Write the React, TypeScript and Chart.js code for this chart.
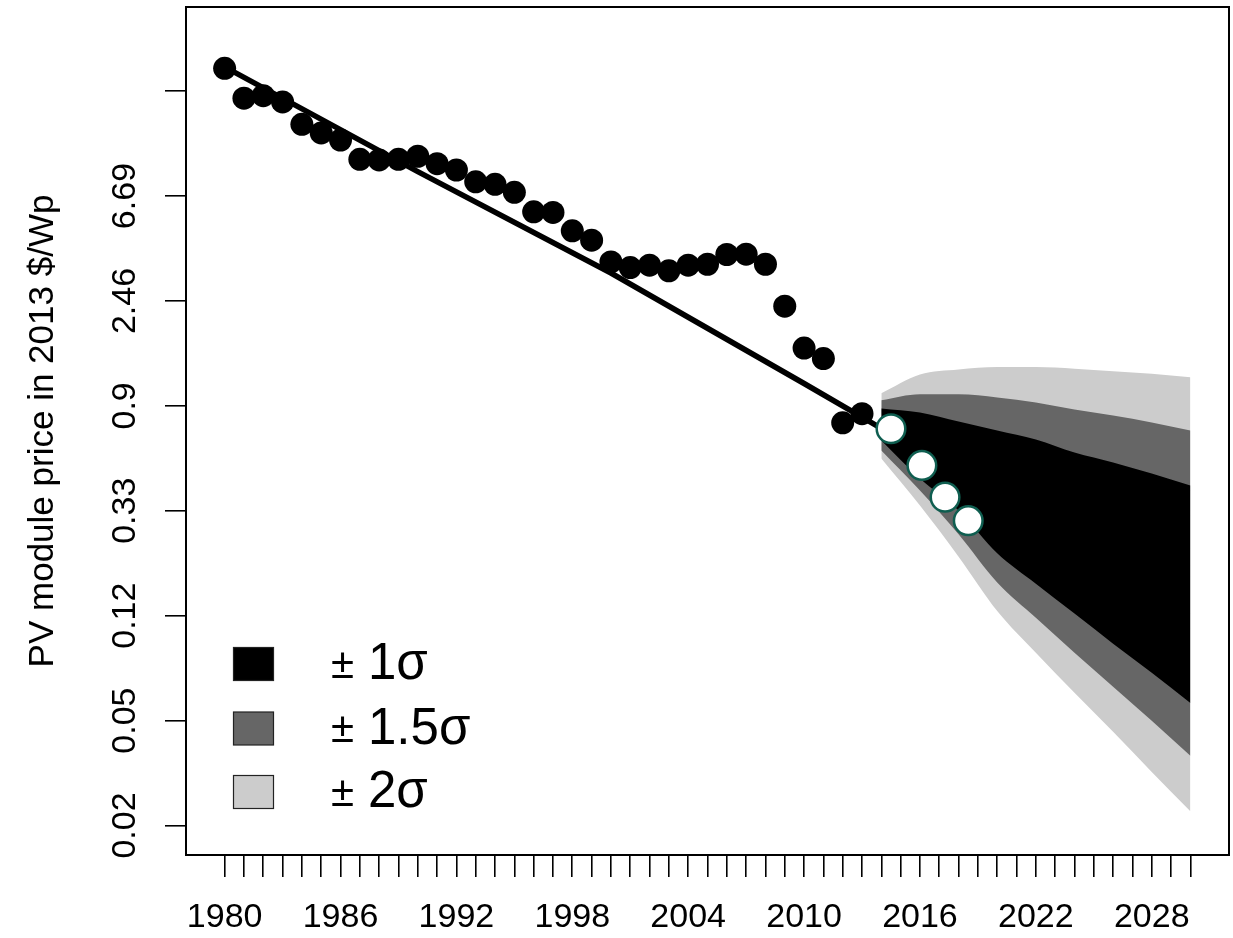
import React, { useEffect, useRef } from 'react';
import { Chart, registerables } from 'chart.js';

Chart.register(...registerables);

// Historical PV module prices (2013 $/Wp)
const histYears = [1980, 1981, 1982, 1983, 1984, 1985, 1986, 1987, 1988, 1989, 1990, 1991, 1992, 1993, 1994, 1995, 1996, 1997, 1998, 1999, 2000, 2001, 2002, 2003, 2004, 2005, 2006, 2007, 2008, 2009, 2010, 2011, 2012, 2013];
const histPrices = [22.6, 17.0, 17.4, 16.4, 13.25, 12.2, 11.4, 9.49, 9.43, 9.49, 9.77, 9.1, 8.57, 7.66, 7.48, 6.93, 5.75, 5.72, 4.8, 4.39, 3.57, 3.38, 3.46, 3.28, 3.46, 3.49, 3.83, 3.84, 3.49, 2.34, 1.57, 1.42, 0.77, 0.84];

// Fitted trend line
const trendYears = [1980, 1990, 2000, 2010, 2014];
const trendPrices = [22.9, 8.44, 3.21, 1.12, 0.73];

// Newer observations (white circles)
const newYears = [2014.5, 2016.1, 2017.3, 2018.5];
const newPrices = [0.728, 0.513, 0.379, 0.303];

// Forecast bands
const bandYears = [2014, 2016, 2018, 2020, 2022, 2024, 2026, 2028, 2030];
const sigma2Upper = [1.02, 1.22, 1.28, 1.31, 1.31, 1.29, 1.26, 1.23, 1.19];
const sigma2Lower = [0.548, 0.35, 0.215, 0.128, 0.086, 0.0587, 0.0405, 0.0276, 0.019];
const sigma15Upper = [0.954, 1.01, 1.01, 0.981, 0.935, 0.875, 0.826, 0.773, 0.716];
const sigma15Lower = [0.592, 0.404, 0.266, 0.168, 0.12, 0.086, 0.0622, 0.045, 0.0322];
const sigma1Upper = [0.883, 0.85, 0.78, 0.716, 0.657, 0.58, 0.528, 0.475, 0.424];
const sigma1Lower = [0.651, 0.453, 0.334, 0.222, 0.166, 0.125, 0.0938, 0.0711, 0.0533];

// Axis ticks
const xTickYears = [1980, 1981, 1982, 1983, 1984, 1985, 1986, 1987, 1988, 1989, 1990, 1991, 1992, 1993, 1994, 1995, 1996, 1997, 1998, 1999, 2000, 2001, 2002, 2003, 2004, 2005, 2006, 2007, 2008, 2009, 2010, 2011, 2012, 2013, 2014, 2015, 2016, 2017, 2018, 2019, 2020, 2021, 2022, 2023, 2024, 2025, 2026, 2027, 2028, 2029, 2030];
const xLabelYears = [1980, 1986, 1992, 1998, 2004, 2010, 2016, 2022, 2028];
const yTickLogs = [-4.1, -3.1, -2.1, -1.1, -0.1, 0.9, 1.9, 2.9];
const yTickLabels = ['0.02', '0.05', '0.12', '0.33', '0.9', '2.46', '6.69', ''];

const legendSigmas = ['1\u03C3', '1.5\u03C3', '2\u03C3'];
const bandColors = ['#000000', '#666666', '#cccccc'];
const yTitle = 'PV module price in 2013 $/Wp';

const FONT = "'Liberation Sans', Arial, Helvetica, sans-serif";

const pts = (xs: number[], ys: number[]) => xs.map((x, i) => ({ x, y: ys[i] }));

const boxPlugin = {
  id: 'boxPlugin',
  afterDraw(chart: any) {
    const { ctx, chartArea: a } = chart;
    ctx.save();
    ctx.strokeStyle = '#000';
    ctx.lineWidth = 2;
    ctx.strokeRect(a.left, a.top, a.right - a.left, a.bottom - a.top);
    ctx.restore();
  },
};

const legendPlugin = {
  id: 'legendPlugin',
  afterDraw(chart: any) {
    const { ctx } = chart;
    const rowY = [664, 728.5, 792];
    ctx.save();
    legendSigmas.forEach((lab, i) => {
      const cy = rowY[i];
      ctx.fillStyle = bandColors[i];
      ctx.fillRect(233.5, cy - 16.5, 40, 33);
      ctx.strokeStyle = '#222';
      ctx.lineWidth = 1.2;
      ctx.strokeRect(233.5, cy - 16.5, 40, 33);
      ctx.fillStyle = '#000';
      ctx.textBaseline = 'middle';
      ctx.textAlign = 'left';
      ctx.font = `42px ${FONT}`;
      ctx.fillText('\u00B1', 331, cy + 2);
      ctx.font = `51px ${FONT}`;
      ctx.fillText(lab, 368, cy + 1);
    });
    ctx.restore();
  },
};

export default function App() {
  const ref = useRef<HTMLCanvasElement | null>(null);

  useEffect(() => {
    if (!ref.current) return;
    const bandDs = (data: any[], color: string, fillTarget: any, order: number) => ({
      type: 'line',
      data,
      borderWidth: 0,
      borderColor: 'transparent',
      backgroundColor: color,
      pointRadius: 0,
      fill: fillTarget,
      order,
      cubicInterpolationMode: 'monotone',
    });
    const chart = new Chart(ref.current, {
      type: 'line',
      data: {
        datasets: [
          bandDs(pts(bandYears, sigma2Upper), '#cccccc', { target: 1 }, 10),
          bandDs(pts(bandYears, sigma2Lower), '#cccccc', false, 10),
          bandDs(pts(bandYears, sigma15Upper), '#666666', { target: 3 }, 9),
          bandDs(pts(bandYears, sigma15Lower), '#666666', false, 9),
          bandDs(pts(bandYears, sigma1Upper), '#000000', { target: 5 }, 8),
          bandDs(pts(bandYears, sigma1Lower), '#000000', false, 8),
          {
            type: 'line',
            data: pts(trendYears, trendPrices),
            borderColor: '#000',
            borderWidth: 5.5,
            pointRadius: 0,
            fill: false,
            tension: 0,
            order: 3,
          },
          {
            type: 'scatter',
            data: pts(histYears, histPrices),
            backgroundColor: '#000',
            borderWidth: 0,
            pointRadius: 11.5,
            order: 2,
          },
          {
            type: 'scatter',
            data: pts(newYears, newPrices),
            backgroundColor: '#ffffff',
            borderColor: '#0f5e50',
            borderWidth: 2.5,
            pointRadius: 14.3,
            order: 1,
          },
        ] as any,
      },
      options: {
        responsive: false,
        animation: false,
        events: [],
        layout: { autoPadding: false, padding: { left: 0, top: 7, right: 4, bottom: 0 } },
        plugins: { legend: { display: false }, tooltip: { enabled: false } },
        scales: {
          x: {
            type: 'linear',
            min: 1978,
            max: 2032,
            bounds: 'data',
            afterBuildTicks: (s: any) => {
              s.ticks = xTickYears.map((v) => ({ value: v }));
            },
            afterFit: (s: any) => {
              s.height = 83;
              s.paddingLeft = 0;
              s.paddingRight = 0;
            },
            border: { display: false },
            grid: { drawOnChartArea: false, drawTicks: true, tickLength: 22, color: '#000', lineWidth: 1.6 },
            ticks: {
              autoSkip: false,
              minRotation: 0,
              maxRotation: 0,
              padding: 20,
              color: '#000',
              font: { family: FONT, size: 34 },
              callback: (v: any) => (xLabelYears.includes(Number(v)) ? String(v) : ''),
            },
          },
          y: {
            type: 'logarithmic',
            min: Math.exp(-4.381),
            max: Math.exp(3.702),
            bounds: 'data',
            afterBuildTicks: (s: any) => {
              s.ticks = yTickLogs.map((v) => ({ value: Math.exp(v) }));
            },
            afterFit: (s: any) => {
              s.width = 186;
              s.paddingTop = 0;
              s.paddingBottom = 0;
            },
            border: { display: false },
            grid: { drawOnChartArea: false, drawTicks: true, tickLength: 21, color: '#000', lineWidth: 1.6 },
            ticks: {
              autoSkip: false,
              minRotation: 90,
              maxRotation: 90,
              crossAlign: 'center',
              padding: 6,
              color: '#000',
              font: { family: FONT, size: 34 },
              callback: (_v: any, i: number) => yTickLabels[i],
            },
            title: {
              display: true,
              text: yTitle,
              color: '#000',
              font: { family: FONT, size: 35 },
              padding: { top: 22, bottom: 0 },
            },
          },
        },
      } as any,
      plugins: [boxPlugin, legendPlugin],
    });
    return () => chart.destroy();
  }, []);

  return (
    <div style={{ position: 'fixed', left: 0, top: 0, width: 1233, height: 938, background: '#fff' }}>
      <canvas ref={ref} width={1233} height={938} style={{ display: 'block' }} />
    </div>
  );
}
